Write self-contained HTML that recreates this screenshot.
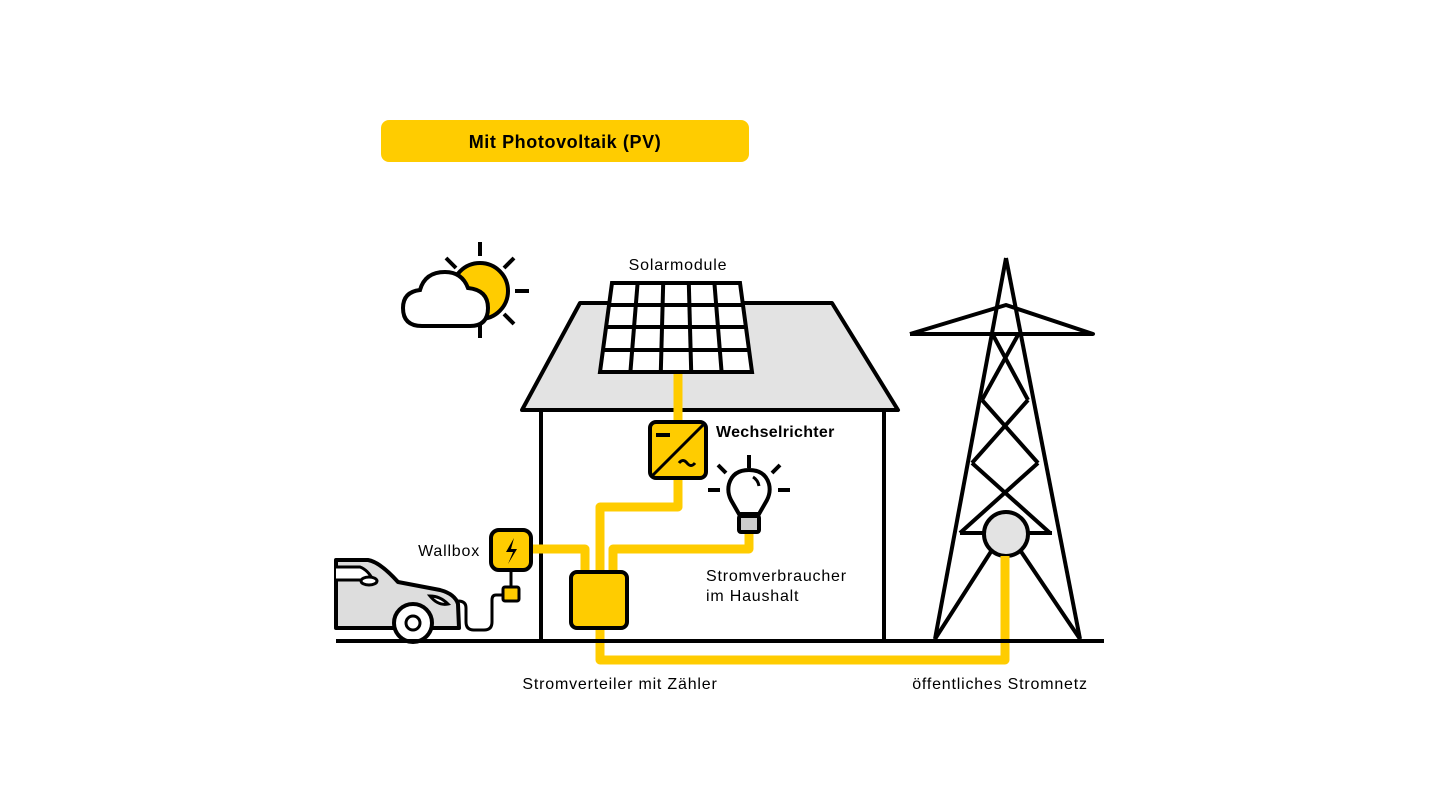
<!DOCTYPE html>
<html><head><meta charset="utf-8"><style>
html,body{margin:0;padding:0;background:#fff;}
svg{display:block}
text{font-family:"Liberation Sans",sans-serif;fill:#000;font-size:16px;letter-spacing:0.8px}
</style></head><body>
<svg width="1440" height="810" viewBox="0 0 1440 810" xmlns="http://www.w3.org/2000/svg">
<rect x="381" y="120" width="368" height="42" rx="8" fill="#ffcc00"/>
<text x="565" y="148" style="font-size:18px;letter-spacing:0.6px" font-weight="bold" text-anchor="middle">Mit Photovoltaik (PV)</text>

<g stroke="#000" stroke-width="4" fill="none">
<line x1="480" y1="242" x2="480" y2="256"/>
<line x1="480" y1="324" x2="480" y2="338"/>
<line x1="515" y1="291" x2="529" y2="291"/>
<line x1="446" y1="258" x2="456" y2="268"/>
<line x1="504" y1="268" x2="514" y2="258"/>
<line x1="504" y1="314" x2="514" y2="324"/>
</g>
<circle cx="480" cy="291" r="28" fill="#ffcc00" stroke="#000" stroke-width="4"/>
<path d="M422,326 Q403,326 403,308 Q403,292 420,290 Q425,272 445,272 Q462,272 468,288 Q488,290 488,308 Q488,326 470,326 Z" fill="#fff" stroke="#000" stroke-width="4"/>

<polygon points="522,410 580,303 832,303 898,410" fill="#e3e3e3" stroke="#000" stroke-width="4" stroke-linejoin="round"/>
<rect x="541" y="410" width="343" height="231" fill="#fff" stroke="#000" stroke-width="4"/>

<g stroke="#000" stroke-width="4" fill="#fff">
<polygon points="612,283 740,283 752,372 600,372"/>
<line x1="637.6" y1="283" x2="630.4" y2="372"/>
<line x1="663.2" y1="283" x2="660.8" y2="372"/>
<line x1="688.8" y1="283" x2="691.2" y2="372"/>
<line x1="714.4" y1="283" x2="721.6" y2="372"/>
<line x1="609" y1="305" x2="743" y2="305"/>
<line x1="606" y1="327" x2="746" y2="327"/>
<line x1="603" y1="350" x2="749" y2="350"/>
</g>

<g stroke="#ffcc00" stroke-width="9" fill="none" stroke-linejoin="round">
<path d="M678,374 V422"/>
<path d="M678,478 V507 H600 V572"/>
<path d="M532,549 H585 V572"/>
<path d="M749,533 V549 H613 V572"/>
<path d="M600,628 V660 H1005 V555"/>
</g>

<rect x="650" y="422" width="56" height="56" rx="6" fill="#ffcc00" stroke="#000" stroke-width="4"/>
<line x1="704" y1="424" x2="652" y2="476" stroke="#000" stroke-width="3"/>
<line x1="656" y1="435" x2="670" y2="435" stroke="#000" stroke-width="4"/>
<path d="M679,463 q4,-5 8,0 q4,5 8,0" stroke="#000" stroke-width="3" fill="none"/>
<text x="716" y="437" font-weight="bold" style="letter-spacing:0.3px">Wechselrichter</text>

<rect x="571" y="572" width="56" height="56" rx="6" fill="#ffcc00" stroke="#000" stroke-width="4"/>

<g stroke="#000" stroke-width="4" fill="none">
<line x1="749" y1="455" x2="749" y2="468"/>
<line x1="718" y1="465" x2="726" y2="473"/>
<line x1="780" y1="465" x2="772" y2="473"/>
<line x1="708" y1="490" x2="720" y2="490"/>
<line x1="778" y1="490" x2="790" y2="490"/>
</g>
<path d="M739,514 L731,500 Q727,492 729,484 Q733,470 749,470 Q765,470 769,484 Q771,492 767,500 L759,514 Z" fill="#fff" stroke="#000" stroke-width="4"/>
<path d="M753,477 q5,3 6,9" stroke="#000" stroke-width="3" fill="none"/>
<rect x="739" y="516" width="20" height="16" rx="2" fill="#ccc" stroke="#000" stroke-width="4"/>
<text x="706" y="581">Stromverbraucher</text>
<text x="706" y="601">im Haushalt</text>

<rect x="491" y="530" width="40" height="40" rx="8" fill="#ffcc00" stroke="#000" stroke-width="4"/>
<path d="M514,538 L506,552 H513 L508,564 L517,549 H511 Z" fill="#000"/>
<line x1="511" y1="570" x2="511" y2="588" stroke="#000" stroke-width="3"/>
<rect x="503" y="587" width="16" height="14" rx="2" fill="#ffcc00" stroke="#000" stroke-width="3"/>
<text x="480" y="556" text-anchor="end">Wallbox</text>
<path d="M503,595 H496 Q492,595 492,600 V622 Q492,630 484,630 H474 Q466,630 466,622 V608 Q466,601 458,601" stroke="#000" stroke-width="3" fill="none"/>

<path d="M336,560 H368 Q380,562 398,582 L440,590 Q455,594 458,604 L459,628 H336 Z" fill="#ddd" stroke="#000" stroke-width="4" stroke-linejoin="round"/>
<path d="M336,567 H360 Q368,570 373,580 H336" fill="#fff" stroke="#000" stroke-width="3"/>
<ellipse cx="369" cy="581" rx="8" ry="4" fill="#fff" stroke="#000" stroke-width="3"/>
<path d="M430,596 q10,0 18,8 q-10,2 -18,-8 z" fill="#fff" stroke="#000" stroke-width="3"/>
<circle cx="413" cy="623" r="19" fill="#fff" stroke="#000" stroke-width="4"/>
<circle cx="413" cy="623" r="7" fill="#fff" stroke="#000" stroke-width="3"/>

<g stroke="#000" stroke-width="4" fill="none" stroke-linejoin="round">
<line x1="1006" y1="258" x2="935" y2="639"/>
<line x1="1006" y1="258" x2="1080" y2="639"/>
<polyline points="910,334 1006,305 1093,334 910,334"/>
<line x1="993" y1="335" x2="1028" y2="400"/>
<line x1="1018" y1="335" x2="982" y2="400"/>
<line x1="982" y1="400" x2="1038" y2="463"/>
<line x1="1028" y1="400" x2="972" y2="463"/>
<line x1="972" y1="463" x2="1050" y2="533"/>
<line x1="1038" y1="463" x2="960" y2="533"/>
<line x1="960" y1="533" x2="1052" y2="533"/>
<line x1="992" y1="550" x2="935" y2="639"/>
<line x1="1020" y1="550" x2="1080" y2="639"/>
</g>
<circle cx="1006" cy="534" r="22" fill="#e3e3e3" stroke="#000" stroke-width="4"/>
<path d="M1005,556 V660" stroke="#ffcc00" stroke-width="9"/>

<line x1="336" y1="641" x2="1104" y2="641" stroke="#000" stroke-width="4"/>

<text x="678" y="270" text-anchor="middle">Solarmodule</text>
<text x="620" y="689" text-anchor="middle">Stromverteiler mit Zähler</text>
<text x="1000" y="689" text-anchor="middle">öffentliches Stromnetz</text>
</svg>
</body></html>
